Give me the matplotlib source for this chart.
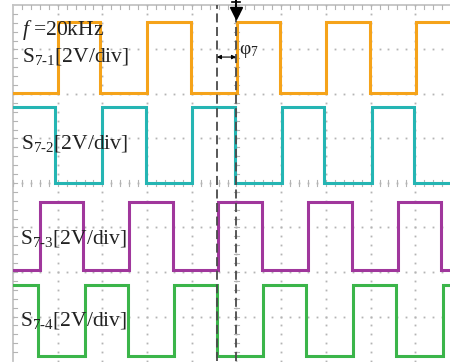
import numpy as np
import matplotlib
matplotlib.use('Agg')
import matplotlib.pyplot as plt

plt.rcParams['font.family'] = ['Liberation Serif', 'DejaVu Serif']
plt.rcParams['mathtext.fontset'] = 'custom'
plt.rcParams['mathtext.rm'] = 'Liberation Serif'
plt.rcParams['mathtext.it'] = 'Liberation Serif:italic'

# ---- data (screen divisions: x 0..10, y 0..8) ----
s1_edges = [1.00, 1.95, 3.00, 3.98, 5.01, 5.97, 7.00, 7.99, 9.02, 9.98]
s1_start_high = False
s1_levels = [7.62, 6.02]  # high, low

s2_edges = [0.94, 1.99, 2.98, 4.00, 4.97, 6.02, 6.96, 8.03, 8.97, 10.03]
s2_start_high = True
s2_levels = [5.71, 4.00]

s3_edges = [0.60, 1.57, 2.60, 3.58, 4.59, 5.57, 6.60, 7.58, 8.61, 9.57]
s3_start_high = False
s3_levels = [3.57, 2.04]

s4_edges = [0.56, 1.61, 2.57, 3.60, 4.56, 5.59, 6.55, 7.61, 8.57, 9.62]
s4_start_high = True
s4_levels = [1.71, 0.11]

colors = ['#F5A31A', '#25B5B3', '#A0379C', '#3BB54A']
labels = [r'S$_{\mathregular{7\text{-}1}}$[2V/div]', r'S$_{\mathregular{7\text{-}2}}$[2V/div]',
          r'S$_{\mathregular{7\text{-}3}}$[2V/div]', r'S$_{\mathregular{7\text{-}4}}$[2V/div]']
label_pos = [(0.2, 6.73), (0.18, 4.78), (0.16, 2.63), (0.16, 0.79)]
freq_text = r'$f$ =20kHz'
phase_text = r'φ$_{\mathregular{7}}$'
cursor_x = [4.56, 4.99]

def square(edges, start_high, levels, x0=0.0, x1=10.0):
    hi, lo = levels
    state = start_high
    xs, ys = [x0], [hi if state else lo]
    for e in edges:
        xs.append(e); ys.append(hi if state else lo)
        state = not state
        xs.append(e); ys.append(hi if state else lo)
    xs.append(x1); ys.append(hi if state else lo)
    return xs, ys

fig = plt.figure(figsize=(4.5, 3.62), dpi=100)
ax = fig.add_axes([13/450, 1/362, 447/450, 356/362])
ax.set_xlim(0, 10)
ax.set_ylim(0, 8)
ax.axis('off')

gcol = '#b4b4b4'
# border (left, top)
ax.plot([0, 0], [0, 8], color='#c4c4c4', lw=1.3, clip_on=False)
ax.plot([0, 10], [8, 8], color='#c4c4c4', lw=1.3, clip_on=False)
# dotted grid
minor_y = np.arange(0, 8.001, 0.2)
minor_x = np.arange(0, 10.001, 0.2)
for xg in range(1, 10):
    ax.plot(np.full_like(minor_y, xg), minor_y, ls='none', marker='s', ms=1.3, mec='none', mfc=gcol)
for yg in range(1, 8):
    ax.plot(minor_x, np.full_like(minor_x, yg), ls='none', marker='s', ms=1.3, mec='none', mfc=gcol)
# border ticks
tl = 0.08
for y in minor_y[1:-1]:
    ax.plot([0, tl], [y, y], color=gcol, lw=0.8)
for x in minor_x[1:]:
    ax.plot([x, x], [8, 8 - tl*1.0], color=gcol, lw=0.8)
# centre axes ticks
for y in minor_y:
    ax.plot([5 - 0.06, 5 + 0.06], [y, y], color=gcol, lw=0.8)
for x in minor_x:
    ax.plot([x, x], [4 - 0.06, 4 + 0.06], color=gcol, lw=0.8)

# waveforms
for edges, sh, lev, c in [(s1_edges, s1_start_high, s1_levels, colors[0]),
                           (s2_edges, s2_start_high, s2_levels, colors[1]),
                           (s3_edges, s3_start_high, s3_levels, colors[2]),
                           (s4_edges, s4_start_high, s4_levels, colors[3])]:
    xs, ys = square(edges, sh, lev)
    ax.plot(xs, ys, color=c, lw=2.2, solid_joinstyle='miter')

# cursors
for cx in cursor_x:
    ax.plot([cx, cx], [0, 8], color='#4a4a4a', lw=1.3, ls=(0, (5, 2.5)))

# trigger marker at top
ax.plot([cursor_x[1], cursor_x[1]], [7.8, 8.12], color='black', lw=1.4, clip_on=False)
ax.plot([cursor_x[1]], [7.82], marker='v', ms=8, color='black', clip_on=False)
ax.plot([cursor_x[1] - 0.09, cursor_x[1] + 0.09], [8.06, 8.06], color='black', lw=1.2, clip_on=False)

# phase arrow
ax.annotate('', xy=(cursor_x[0], 6.83), xytext=(cursor_x[1], 6.83),
            arrowprops=dict(arrowstyle='<|-|>', color='black', lw=0.8,
                            mutation_scale=6, shrinkA=0, shrinkB=0))
ax.text(cursor_x[1] + 0.06, 6.9, phase_text, fontsize=14, color='#222222',
        ha='left', va='baseline')

# labels
tcol = '#222222'
ax.text(0.2, 7.33, freq_text, fontsize=15.5, color=tcol, ha='left', va='baseline')
for (lx, ly), t in zip(label_pos, labels):
    ax.text(lx, ly, t, fontsize=15.5, color=tcol, ha='left', va='baseline')

fig.savefig('out.png', dpi=100)
